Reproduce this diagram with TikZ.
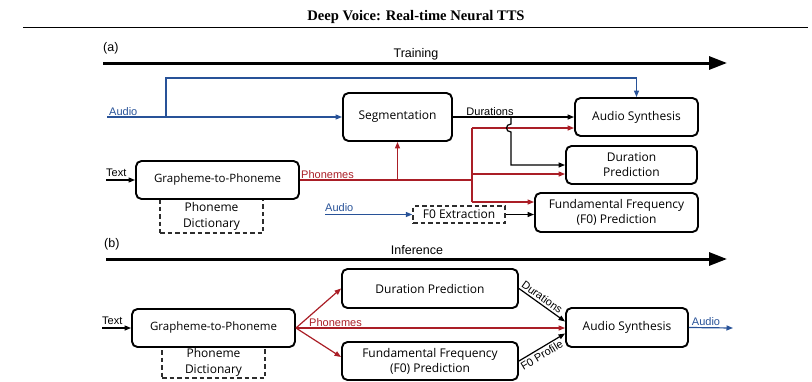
\documentclass[tikz,border=0pt]{standalone}
\usepackage{fontspec}
\setmainfont{Liberation Serif}
\newfontfamily\boxfont{Open Sans}
\newfontfamily\lblfont{Liberation Sans}
\usetikzlibrary{arrows.meta}
\definecolor{pathred}{RGB}{170,30,38}
\definecolor{pathblue}{RGB}{40,82,152}
\definecolor{dashgray}{RGB}{45,45,45}

\begin{document}
\begin{tikzpicture}[x=1pt,y=-1pt,
  blk/.style={draw, line width=1.9pt, rounded corners=5.5pt, align=center,
    font=\boxfont\fontsize{12}{15}\selectfont, inner sep=0pt},
  dictbox/.style={draw=dashgray, dash pattern=on 4.5pt off 3pt, line width=1.4pt, align=center,
    font=\boxfont\fontsize{12}{16}\selectfont, inner sep=0pt},
  tipend/.style={-{Triangle[length=6.5pt,width=5pt]}},
  conn/.style={line width=1.2pt, tipend},
  plain/.style={line width=1.2pt},
  redc/.style={conn, draw=pathred},
  redl/.style={plain, draw=pathred},
  bluec/.style={conn, draw=pathblue},
  lbl/.style={font=\lblfont\fontsize{11}{12}\selectfont, inner sep=1pt},
  timeline/.style={line width=3pt, -{Triangle[length=18pt,width=13pt]}},
  tllbl/.style={font=\lblfont\fontsize{12.5}{14}\selectfont, inner sep=0pt},
]
\useasboundingbox (0,0) rectangle (812,381);

% page header
\node[font=\bfseries\fontsize{14.6}{17}\selectfont, inner sep=0pt] (title) at (416,17) {Deep Voice: Real-time Neural TTS};
\coordinate (ruleL) at (23,27);
\coordinate (ruleR) at (808,27);
\draw[line width=1pt] (ruleL) -- (ruleR);

% ---------------- (a) training ----------------
\node[tllbl, anchor=west] (labA) at (103,48) {(a)};
\coordinate (trainL) at (103,63);
\coordinate (trainR) at (727,63);
\draw[timeline] (trainL) -- (trainR);
\node[tllbl] (trainTxt) at (416,54) {Training};

\node[blk, minimum width=109pt, minimum height=48pt] (seg) at (397.5,117) {Segmentation};
\node[blk, minimum width=123pt, minimum height=38pt] (asA) at (636.5,117) {Audio Synthesis};
\node[blk, minimum width=131pt, minimum height=38pt] (dpA) at (631.5,165) {Duration\\Prediction};
\node[blk, minimum width=163pt, minimum height=39pt] (f0pA) at (616.5,212.5) {Fundamental Frequency\\(F0) Prediction};
\node[dictbox, minimum width=92pt, minimum height=17pt] (f0e) at (459,214.5) {F0 Extraction};
\node[dictbox, minimum width=103pt, minimum height=34pt] (dictA) at (211.5,216) {Phoneme\\Dictionary};
\node[blk, fill=white, font=\boxfont\fontsize{11.5}{15}\selectfont, minimum width=163pt, minimum height=38pt] (g2pA) at (217.5,180) {Grapheme-to-Phoneme};

% audio input, to segmentation and to synthesis
\coordinate (audA) at (107,117);
\coordinate (audBr) at (166,117);
\coordinate (audTop) at (166,78);
\draw[bluec] (audA) -- (seg.west);
\draw[bluec] (audBr) -- (audTop) -| (asA.north);
\node[lbl, text=pathblue, anchor=south west] (audAtxt) at (108,117) {Audio};

% text input
\coordinate (txtA) at (106,180);
\draw[conn] (txtA) -- (g2pA.west);
\node[lbl, anchor=south west] (txtAtxt) at (105,178) {Text};

% phonemes
\coordinate (phJoin) at (472,180);
\coordinate (phTop) at (472,128);
\coordinate (phMid) at (472,174);
\coordinate (phBot) at (472,202);
\draw[redl] (g2pA.east) -- (phJoin);
\draw[redc] (seg.south |- g2pA.east) -- (seg.south);
\draw[redl] (phTop) -- (phBot);
\draw[redc] (phTop) -- (phTop -| asA.west);
\draw[redc] (phMid) -- (phMid -| dpA.west);
\draw[redc] (phBot) -- (phBot -| f0pA.west);
\node[lbl, text=pathred, anchor=south west] (phAtxt) at (300,180) {Phonemes};

% durations
\coordinate (durBr) at (511,117);
\draw[conn] (seg.east) -- (asA.west);
\draw[conn] (durBr) -- (511,124) .. controls (505,124) and (505,132) .. (511,132) -- (511,165) -- (dpA.west);
\node[lbl, anchor=south] (durAtxt) at (490,117) {Durations};

% F0 extraction
\coordinate (audB) at (325,214.5);
\draw[bluec] (audB) -- (f0e.west);
\node[lbl, text=pathblue, anchor=south west] (audBtxt) at (324,213) {Audio};
\draw[conn] (f0e.east) -- (f0e.east -| f0pA.west);

% ---------------- (b) inference ----------------
\node[tllbl, anchor=west] (labB) at (104,244) {(b)};
\coordinate (infL) at (106,259);
\coordinate (infR) at (727,259);
\draw[timeline] (infL) -- (infR);
\node[tllbl] (infTxt) at (417,250) {Inference};

\node[blk, minimum width=176pt, minimum height=39pt] (dpB) at (430,288.5) {Duration Prediction};
\node[blk, minimum width=176pt, minimum height=38pt] (f0pB) at (430,361) {Fundamental Frequency\\(F0) Prediction};
\node[blk, minimum width=122pt, minimum height=39pt] (asB) at (627,327.5) {Audio Synthesis};
\node[dictbox, minimum width=103pt, minimum height=31pt] (dictB) at (213.5,362.5) {Phoneme\\Dictionary};
\node[blk, fill=white, font=\boxfont\fontsize{11.5}{15}\selectfont, minimum width=163pt, minimum height=38pt] (g2pB) at (213.5,328) {Grapheme-to-Phoneme};

\coordinate (txtB) at (102,328);
\draw[conn] (txtB) -- (g2pB.west);
\node[lbl, anchor=south west] (txtBtxt) at (101,326) {Text};

\draw[redc] (g2pB.east) -- (dpB.west);
\draw[redc] (g2pB.east) -- ([yshift=4pt]f0pB.west);
\draw[redc] (g2pB.east) -- (g2pB.east -| asB.west);
\node[lbl, text=pathred, anchor=south west] (phBtxt) at (308,328) {Phonemes};

\draw[conn] (dpB.east) -- node[lbl, sloped, above, pos=0.42, inner sep=2pt] {Durations} ([yshift=6pt]asB.west);
\draw[conn] (f0pB.east) -- node[lbl, sloped, below, pos=0.42, inner sep=2pt] {F0 Profile} ([yshift=-6pt]asB.west);

\coordinate (audOut) at (733,328);
\draw[bluec] (asB.east) -- (audOut);
\node[lbl, text=pathblue, anchor=south] (audOtxt) at (706,327) {Audio};
\end{tikzpicture}
\end{document}
